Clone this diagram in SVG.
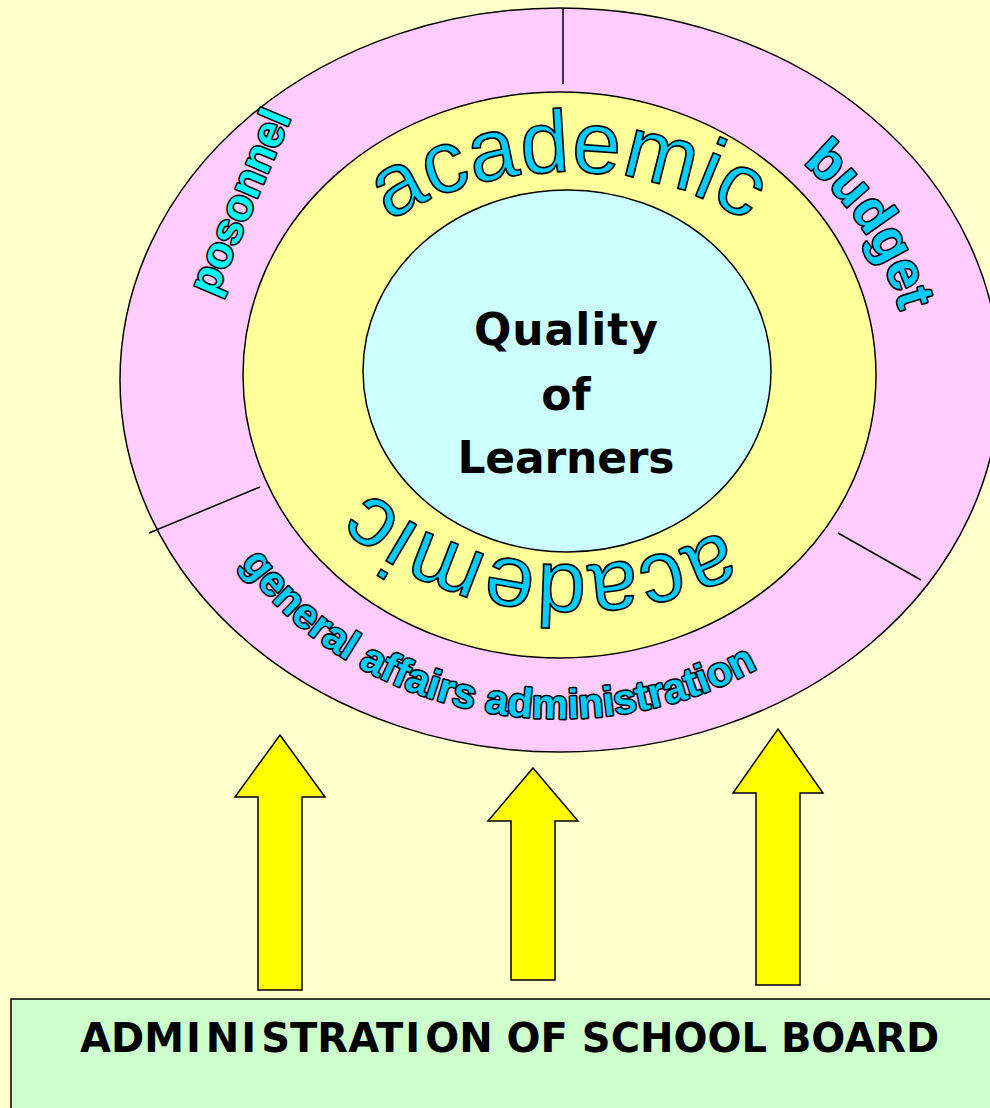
<svg xmlns="http://www.w3.org/2000/svg" xmlns:xlink="http://www.w3.org/1999/xlink" width="990" height="1108" viewBox="0 0 990 1108">
  <style>
    .ring { stroke: #000; stroke-width: 1.5; }
    .divider { stroke: #000; stroke-width: 1.5; fill: none; }
    .arc-label { fill: #00CCFF; stroke: #000; stroke-width: 1.7; stroke-linejoin: round; }
    .heavy { stroke-width: 3.2; paint-order: stroke fill; }
    .bold-label { font-family: "Liberation Sans", Arial, sans-serif; font-weight: bold; }
    .plain-label { font-family: "Liberation Sans", Arial, sans-serif; }
    .core-text { font-family: "DejaVu Sans", Verdana, sans-serif; font-weight: bold; font-size: 44px; fill: #000; text-anchor: middle; }
    .arrow { fill: #FFFF00; stroke: #000; stroke-width: 1.5; stroke-linejoin: miter; }
  </style>
  <defs>
    <!-- baselines for the curved labels -->
    <path id="arcTopAcademic" d="M 298 371 A 270 199 0 0 1 838 371"/>
    <path id="arcBottomAcademic" d="M 835 371 A 260 194 0 0 1 315 371"/>
    <path id="arcBudget" d="M 803 163 A 347 299 0 0 1 903 432"/>
    <path id="arcGeneral" d="M 241 563 A 378 337 0 0 0 915.2 495.3"/>
  </defs>

  <!-- background -->
  <rect x="0" y="0" width="990" height="1108" fill="#FFFFCC"/>

  <!-- outer ring: support areas -->
  <g id="outer-ring">
    <ellipse class="ring" cx="560" cy="380" rx="440" ry="372" fill="#FFCCFF"/>
    <line class="divider" x1="563" y1="8" x2="563" y2="84"/>
    <line class="divider" x1="149" y1="533" x2="260" y2="487"/>
    <line class="divider" x1="838" y1="533" x2="921" y2="580"/>
  </g>

  <!-- middle ring: academic -->
  <g id="academic-ring">
    <ellipse class="ring" cx="559.5" cy="375" rx="316.5" ry="283" fill="#FFFF99"/>
  </g>

  <!-- core -->
  <g id="core">
    <ellipse class="ring" cx="567" cy="371" rx="204" ry="181" fill="#CCFFFF"/>
    <text class="core-text" x="566" y="345" textLength="184">Quality</text>
    <text class="core-text" x="566" y="410">of</text>
    <text class="core-text" x="566" y="473" textLength="217">Learners</text>
  </g>

  <!-- ring labels -->
  <g id="label-academic-top">
    <text class="arc-label plain-label" font-size="88" text-anchor="middle">
      <textPath xlink:href="#arcTopAcademic" href="#arcTopAcademic" startOffset="50%">academic</textPath>
    </text>
  </g>
  <g id="label-academic-bottom">
    <text class="arc-label plain-label" font-size="88" text-anchor="middle">
      <textPath xlink:href="#arcBottomAcademic" href="#arcBottomAcademic" startOffset="393">academic</textPath>
    </text>
  </g>
  <g id="label-posonnel">
    <text class="bold-label heavy" font-size="44" fill="#00FFFF" stroke="#000" stroke-linejoin="round" text-anchor="middle" transform="translate(243 203) rotate(-67)" x="0" y="11">posonnel</text>
  </g>
  <g id="label-budget">
    <text class="arc-label bold-label heavy" font-size="54">
      <textPath xlink:href="#arcBudget" href="#arcBudget">budget</textPath>
    </text>
  </g>
  <g id="label-general">
    <text class="arc-label bold-label heavy" font-size="41">
      <textPath xlink:href="#arcGeneral" href="#arcGeneral">general affairs administration</textPath>
    </text>
  </g>

  <!-- upward arrows -->
  <g id="connectors">
    <polygon class="arrow" points="280,735 325,797 302,797 302,990 258,990 258,797 235,797"/>
    <polygon class="arrow" points="533,768 578,821 555,821 555,980 511,980 511,821 488,821"/>
    <polygon class="arrow" points="778,729 823,793 800,793 800,985 756,985 756,793 733,793"/>
  </g>

  <!-- base -->
  <g id="school-board">
    <rect x="11" y="999" width="1000" height="130" fill="#CCFFCC" stroke="#000" stroke-width="1.5"/>
    <text x="80" y="1052" font-family="'DejaVu Sans', Verdana, sans-serif" font-weight="bold" font-size="40" fill="#000">ADM<tspan dx="2">I</tspan><tspan dx="5">N</tspan><tspan dx="2">I</tspan><tspan dx="5">STRAT</tspan><tspan dx="2">I</tspan><tspan dx="5">ON OF SCHOOL BOARD</tspan></text>
  </g>
</svg>
